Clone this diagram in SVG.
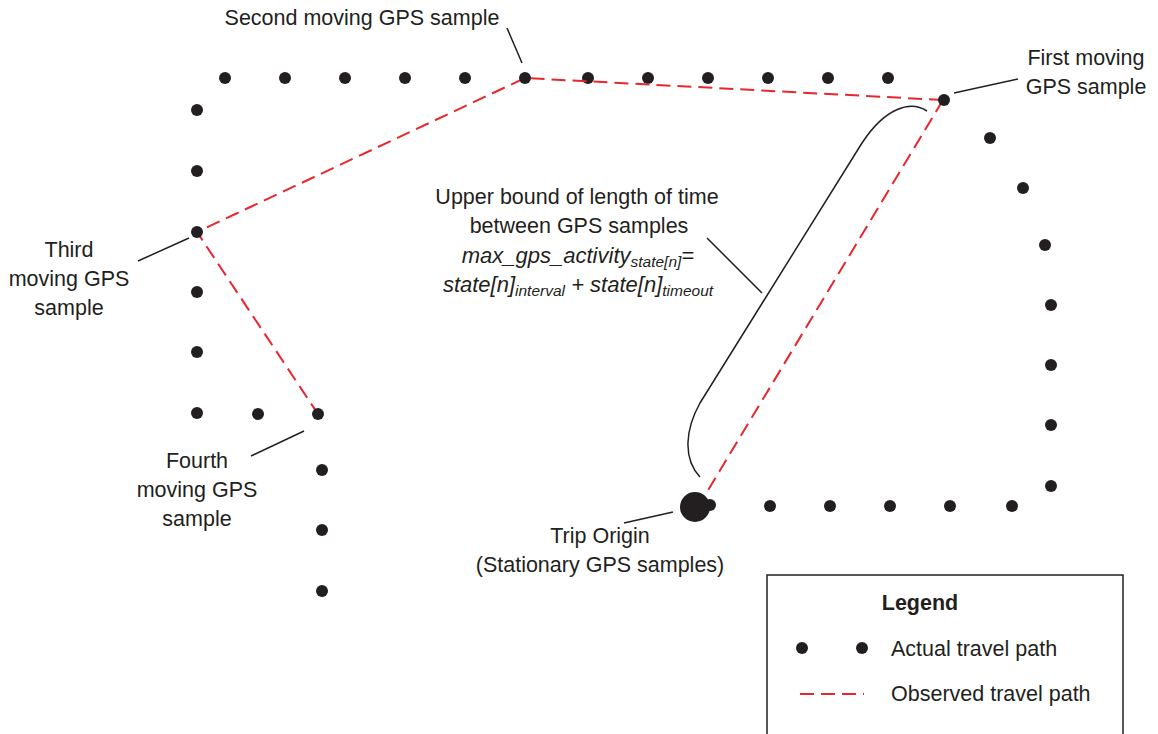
<svg xmlns="http://www.w3.org/2000/svg" width="1158" height="734" viewBox="0 0 1158 734">
  <defs>
    <style>
      text { font-family: "Liberation Sans", Arial, sans-serif; font-size: 21.5px; fill: #231f20; }
      .c { text-anchor: middle; }
      .it { font-style: italic; font-size: 22px; }
      .sub { font-size: 15.5px; }
      .dot { fill: #231f20; }
      .obs { fill: none; stroke: #e8262d; stroke-width: 2; stroke-dasharray: 14 7; }
      .lead { fill: none; stroke: #231f20; stroke-width: 1.5; }
    </style>
  </defs>
  <rect width="1158" height="734" fill="#ffffff"/>

  <!-- actual travel path samples -->
  <g id="actual-path">
    <circle class="dot" cx="225" cy="78" r="6"/>
    <circle class="dot" cx="285" cy="78" r="6"/>
    <circle class="dot" cx="345" cy="78" r="6"/>
    <circle class="dot" cx="405" cy="78" r="6"/>
    <circle class="dot" cx="465" cy="78" r="6"/>
    <circle class="dot" cx="588" cy="78" r="6"/>
    <circle class="dot" cx="648" cy="78" r="6"/>
    <circle class="dot" cx="708" cy="78" r="6"/>
    <circle class="dot" cx="768" cy="78" r="6"/>
    <circle class="dot" cx="828" cy="78" r="6"/>
    <circle class="dot" cx="888" cy="78" r="6"/>
    <circle class="dot" cx="990" cy="138" r="6"/>
    <circle class="dot" cx="1023" cy="188" r="6"/>
    <circle class="dot" cx="1045" cy="245" r="6"/>
    <circle class="dot" cx="1051" cy="305" r="6"/>
    <circle class="dot" cx="1051" cy="365" r="6"/>
    <circle class="dot" cx="1051" cy="425" r="6"/>
    <circle class="dot" cx="1051" cy="486" r="6"/>
    <circle class="dot" cx="1012" cy="506" r="6"/>
    <circle class="dot" cx="950" cy="506" r="6"/>
    <circle class="dot" cx="890" cy="506" r="6"/>
    <circle class="dot" cx="830" cy="506" r="6"/>
    <circle class="dot" cx="770" cy="506" r="6"/>
    <circle class="dot" cx="710" cy="505" r="6"/>
    <circle class="dot" cx="197" cy="110" r="6"/>
    <circle class="dot" cx="197" cy="171" r="6"/>
    <circle class="dot" cx="197" cy="292" r="6"/>
    <circle class="dot" cx="197" cy="352" r="6"/>
    <circle class="dot" cx="197" cy="413" r="6"/>
    <circle class="dot" cx="258" cy="414" r="6"/>
    <circle class="dot" cx="322" cy="470" r="6"/>
    <circle class="dot" cx="322" cy="530" r="6"/>
    <circle class="dot" cx="322" cy="591" r="6"/>
  </g>

  <!-- observed travel path -->
  <g id="connectors">
    <path class="obs" d="M943,100 L525,78 L197,232 L318,414"/>
    <path class="obs" d="M943,100 L704,497"/>
    <!-- label leaders -->
    <path class="lead" d="M507,28 L522,63"/>
    <path class="lead" d="M954,93 L1018,79"/>
    <path class="lead" d="M189,238 L138,261"/>
    <path class="lead" d="M304,431 L251,456"/>
    <path class="lead" d="M673,512 L624,523"/>
    <path class="lead" d="M707,238 L762,293"/>
    <!-- bracket spanning the time bound -->
    <path class="lead" d="M927,111 C910,100 885,108 862,143 L700,403 C686,428 682,458 700,477"/>
  </g>

  <g id="trip-origin">
    <circle class="dot" cx="695" cy="507" r="15"/>
    <text class="c" x="600" y="543">Trip Origin</text>
    <text class="c" x="600" y="572">(Stationary GPS samples)</text>
  </g>

  <g id="first-sample">
    <circle class="dot" cx="944" cy="100" r="6"/>
    <text class="c" x="1086" y="65">First moving</text>
    <text class="c" x="1086" y="94">GPS sample</text>
  </g>

  <g id="second-sample">
    <circle class="dot" cx="525" cy="78" r="6"/>
    <text class="c" x="362" y="25">Second moving GPS sample</text>
  </g>

  <g id="third-sample">
    <circle class="dot" cx="197" cy="232" r="6"/>
    <text class="c" x="69" y="257">Third</text>
    <text class="c" x="69" y="286">moving GPS</text>
    <text class="c" x="69" y="315">sample</text>
  </g>

  <g id="fourth-sample">
    <circle class="dot" cx="318" cy="414" r="6"/>
    <text class="c" x="197" y="468">Fourth</text>
    <text class="c" x="197" y="497">moving GPS</text>
    <text class="c" x="197" y="526">sample</text>
  </g>

  <g id="time-bound">
    <text class="c" x="577" y="204">Upper bound of length of time</text>
    <text class="c" x="579" y="233">between GPS samples</text>
    <text class="c it" x="578" y="263">max_gps_activity<tspan class="sub" dy="4">state[n]</tspan><tspan dy="-4">=</tspan></text>
    <text class="c it" x="578" y="292">state[n]<tspan class="sub" dy="4">interval</tspan><tspan dy="-4"> + state[n]</tspan><tspan class="sub" dy="4">timeout</tspan></text>
  </g>

  <g id="legend">
    <rect x="767" y="575" width="356" height="170" fill="none" stroke="#231f20" stroke-width="1.5"/>
    <text x="920" y="610" class="c" font-weight="bold">Legend</text>
    <circle class="dot" cx="802" cy="648" r="6"/>
    <circle class="dot" cx="862" cy="648" r="6"/>
    <text x="891" y="656">Actual travel path</text>
    <path class="obs" d="M800,694 L864,694" stroke-dasharray="16 8"/>
    <text x="891" y="701">Observed travel path</text>
  </g>
</svg>
